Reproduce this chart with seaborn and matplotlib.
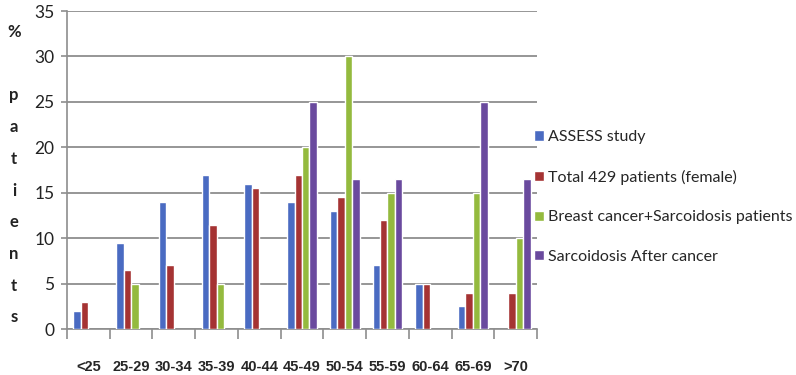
import numpy as np
import pandas as pd
import matplotlib
matplotlib.use("Agg")
import matplotlib.pyplot as plt
import seaborn as sns

age_groups = ["<25", "25-29", "30-34", "35-39", "40-44", "45-49",
              "50-54", "55-59", "60-64", "65-69", ">70"]
series_names = ["ASSESS study", "Total 429 patients (female)",
                "Breast cancer+Sarcoidosis patients", "Sarcoidosis After cancer"]
assess = [2, 9.5, 14, 17, 16, 14, 13, 7, 5, 2.5, np.nan]
total_429 = [3, 6.5, 7, 11.5, 15.5, 17, 14.5, 12, 5, 4, 4]
breast_sarc = [np.nan, 5, np.nan, 5, np.nan, 20, 30, 15, np.nan, 15, 10]
sarc_after = [np.nan, np.nan, np.nan, np.nan, np.nan, 25, 16.5, 16.5, np.nan, 25, 16.5]
y_ticks = [0, 5, 10, 15, 20, 25, 30, 35]
y_label_chars = ["%", "", "p", "a", "t", "i", "e", "n", "t", "s"]

colors = ["#4A6BC2", "#A53333", "#94BA3E", "#6A4A9E"]

rows = []
for name, vals in zip(series_names, [assess, total_429, breast_sarc, sarc_after]):
    for g, v in zip(age_groups, vals):
        rows.append({"age": g, "series": name, "value": v})
df = pd.DataFrame(rows)

sns.set_theme(style="white")
plt.rcParams["font.family"] = ["Lato", "DejaVu Sans"]

fig = plt.figure(figsize=(7.96, 3.75), dpi=100)
ax = fig.add_axes([67 / 796, 1 - 329 / 375, 470 / 796, 318 / 375])

sns.barplot(data=df, x="age", y="value", hue="series", order=age_groups,
            hue_order=series_names, palette=colors, width=0.7, gap=0,
            saturation=1, ax=ax, legend=True, errorbar=None, zorder=3)

ax.set_ylim(0, 35)
ax.set_xlim(-0.5, len(age_groups) - 0.5)
ax.set_yticks(y_ticks)
ax.set_yticklabels([str(t) for t in y_ticks], fontsize=12.5, color="#222222")
ax.yaxis.grid(True, color="#8E8E8E", linewidth=1.3, zorder=0)
ax.set_axisbelow(True)
ax.set_xlabel("")
ax.set_ylabel("")

for s in ["top", "right"]:
    ax.spines[s].set_visible(False)
ax.spines["left"].set_color("#8E8E8E")
ax.spines["bottom"].set_color("#8E8E8E")
ax.spines["left"].set_linewidth(1.2)
ax.spines["bottom"].set_linewidth(1.2)

ax.tick_params(axis="y", which="major", left=True, length=4, width=1.2,
               color="#8E8E8E", pad=5)
ax.set_xticks(range(len(age_groups)))
ax.set_xticklabels(age_groups, fontsize=10.5, fontweight="bold",
                   family=["Liberation Sans", "DejaVu Sans"])
ax.tick_params(axis="x", which="major", length=0, pad=22)
ax.set_xticks(np.arange(-0.5, len(age_groups)), minor=True)
ax.tick_params(axis="x", which="minor", bottom=True, length=7, width=1.2,
               color="#8E8E8E")

handles, labels = ax.get_legend_handles_labels()
ax.get_legend().remove()
fig.legend(handles, labels, loc="center left",
           bbox_to_anchor=(528 / 796, 1 - 197 / 375), frameon=False,
           fontsize=11.5, handlelength=0.6, handleheight=0.6,
           handletextpad=0.25, labelspacing=1.6, borderaxespad=0)

for i, ch in enumerate(y_label_chars):
    if ch:
        fig.text(14 / 796, 1 - (32 + i * 31.7) / 375, ch, fontsize=12,
                 fontweight="bold", ha="center", va="center", color="#222222")

fig.savefig("out.png", dpi=100)
